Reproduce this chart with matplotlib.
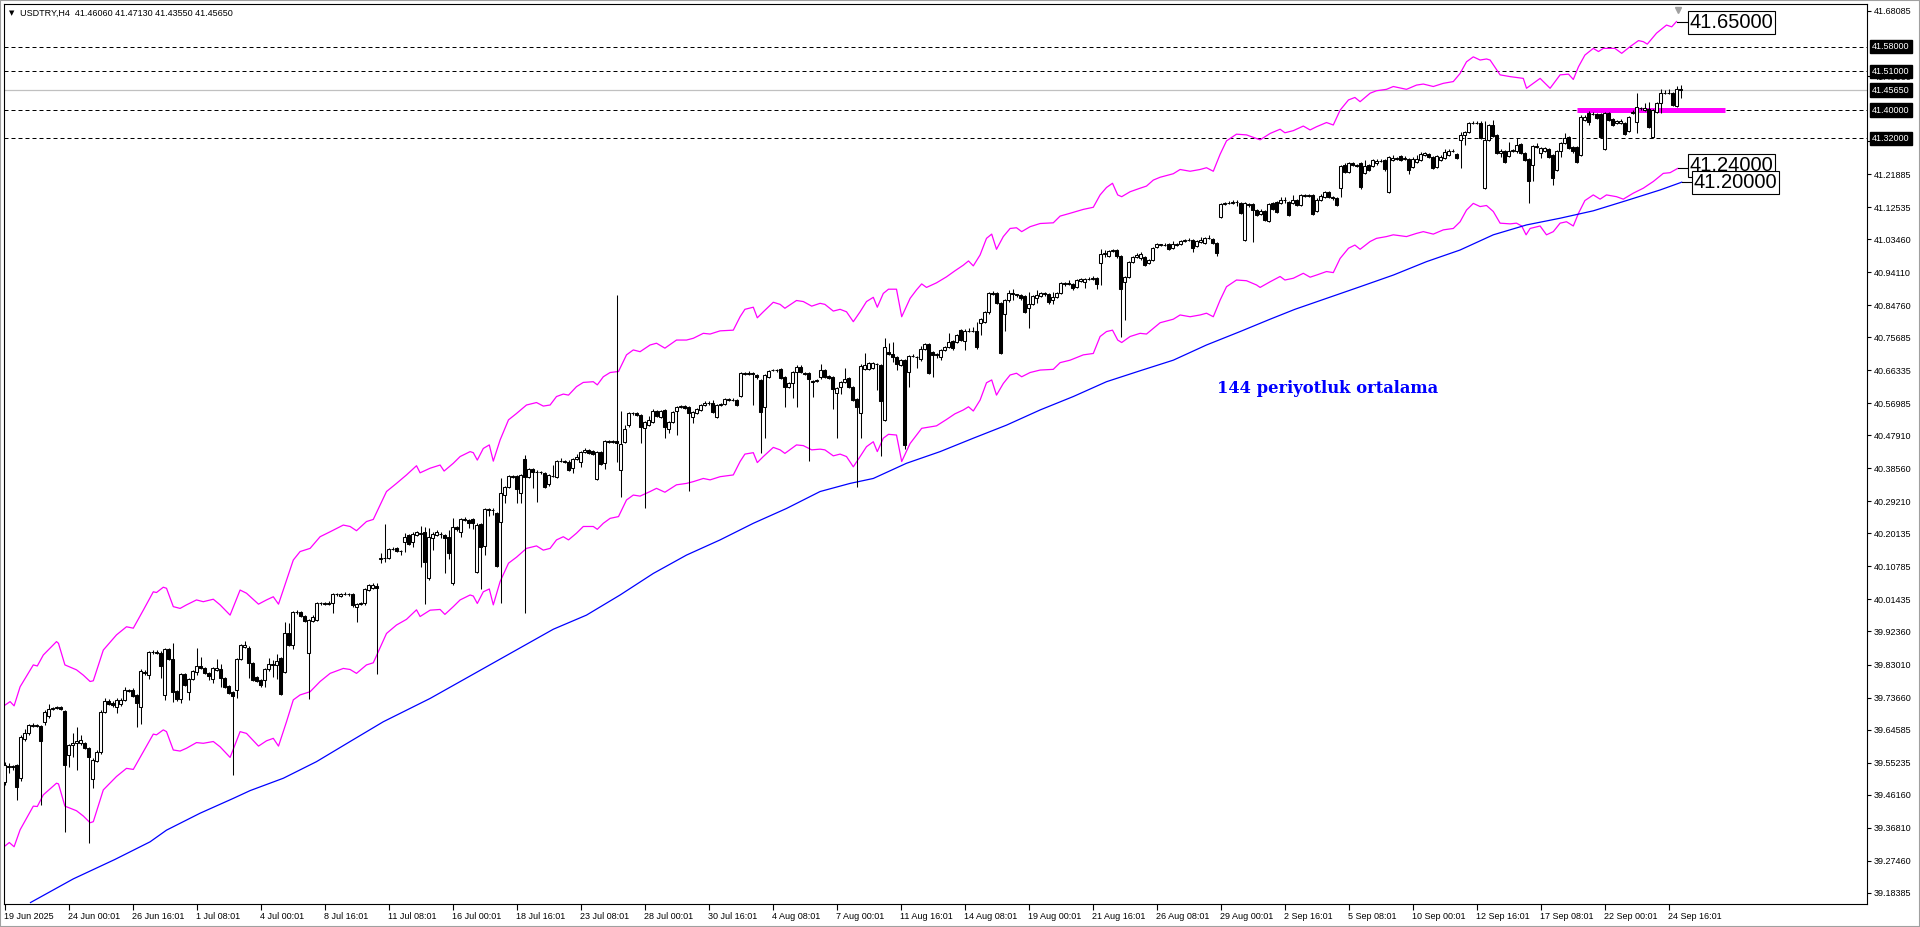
import numpy as np
import matplotlib.pyplot as plt
from matplotlib.patches import Rectangle

plt.rcParams['font.family'] = ['Liberation Sans', 'DejaVu Sans']

# USDTRY H4 candles, bar 0 = 19 Jun 2025 08:01
opens = [
    39.498, 39.543, 39.540, 39.546, 39.508, 39.618, 39.635, 39.656, 39.659, 39.656,
    39.666, 39.684, 39.703, 39.706, 39.709, 39.698, 39.574, 39.602, 39.607, 39.607,
    39.607, 39.593, 39.505, 39.558, 39.581, 39.695, 39.728, 39.722, 39.711, 39.718,
    39.730, 39.756, 39.758, 39.743, 39.711, 39.810, 39.801, 39.865, 39.866, 39.864,
    39.744, 39.875, 39.845, 39.755, 39.732, 39.803, 39.753, 39.788, 39.810, 39.827,
    39.819, 39.805, 39.790, 39.815, 39.817, 39.791, 39.769, 39.753, 39.758, 39.845,
    39.881, 39.878, 39.834, 39.794, 39.786, 39.786, 39.816, 39.832, 39.830, 39.848,
    39.808, 39.918, 39.884, 39.980, 39.978, 39.967, 39.862, 39.954, 39.956, 40.003,
    40.004, 40.002, 40.003, 40.030, 40.024, 40.030, 40.031, 40.030, 39.992, 40.002,
    40.003, 40.041, 40.046, 40.052, 40.130, 40.133, 40.131, 40.157, 40.159, 40.152,
    40.176, 40.197, 40.178, 40.197, 40.200, 40.206, 40.074, 40.187, 40.197, 40.201,
    40.197, 40.192, 40.060, 40.219, 40.205, 40.239, 40.239, 40.241, 40.093, 40.228,
    40.166, 40.270, 40.268, 40.260, 40.235, 40.310, 40.334, 40.364, 40.364, 40.315,
    40.411, 40.362, 40.383, 40.374, 40.376, 40.372, 40.340, 40.364, 40.362, 40.406,
    40.407, 40.405, 40.386, 40.411, 40.405, 40.433, 40.438, 40.436, 40.355, 40.431,
    40.400, 40.463, 40.461, 40.462, 40.381, 40.461, 40.507, 40.541, 40.542, 40.537,
    40.499, 40.508, 40.518, 40.549, 40.532, 40.551, 40.496, 40.516, 40.549, 40.560,
    40.561, 40.558, 40.532, 40.543, 40.551, 40.565, 40.572, 40.570, 40.530, 40.566,
    40.567, 40.582, 40.579, 40.579, 40.591, 40.655, 40.654, 40.655, 40.650, 40.636,
    40.558, 40.645, 40.663, 40.664, 40.666, 40.643, 40.615, 40.628, 40.659, 40.674,
    40.656, 40.655, 40.632, 40.633, 40.643, 40.664, 40.647, 40.645, 40.598, 40.615,
    40.629, 40.641, 40.617, 40.581, 40.541, 40.666, 40.666, 40.669, 40.682, 40.678,
    40.523, 40.716, 40.709, 40.700, 40.678, 40.692, 40.659, 40.704, 40.702, 40.694,
    40.723, 40.738, 40.716, 40.707, 40.702, 40.721, 40.730, 40.747, 40.744, 40.777,
    40.747, 40.776, 40.775, 40.776, 40.798, 40.801, 40.829, 40.881, 40.883, 40.855,
    40.822, 40.862, 40.881, 40.878, 40.877, 40.874, 40.839, 40.850, 40.867, 40.874,
    40.881, 40.878, 40.862, 40.870, 40.881, 40.910, 40.909, 40.908, 40.900, 40.917,
    40.914, 40.923, 40.922, 40.925, 40.968, 40.994, 40.987, 41.001, 41.004, 40.987,
    40.914, 40.928, 40.971, 40.985, 40.980, 40.983, 40.966, 40.976, 41.013, 41.020,
    41.017, 41.020, 41.009, 41.020, 41.020, 41.030, 41.032, 41.032, 41.015, 41.028,
    41.023, 41.037, 41.034, 41.023, 41.097, 41.134, 41.136, 41.138, 41.141, 41.136,
    41.032, 41.134, 41.134, 41.117, 41.106, 41.115, 41.087, 41.138, 41.141, 41.138,
    41.147, 41.141, 41.136, 41.146, 41.131, 41.157, 41.160, 41.160, 41.115, 41.147,
    41.155, 41.168, 41.155, 41.152, 41.179, 41.245, 41.226, 41.249, 41.245, 41.249,
    41.221, 41.245, 41.242, 41.249, 41.257, 41.259, 41.169, 41.259, 41.264, 41.270,
    41.261, 41.261, 41.240, 41.254, 41.259, 41.273, 41.276, 41.268, 41.240, 41.259,
    41.264, 41.273, 41.284, 41.275, 41.316, 41.330, 41.339, 41.363, 41.365, 41.365,
    41.179, 41.316, 41.358, 41.330, 41.280, 41.283, 41.270, 41.285, 41.283, 41.304,
    41.278, 41.261, 41.245, 41.299, 41.278, 41.285, 41.289, 41.273, 41.231, 41.283,
    41.306, 41.323, 41.295, 41.295, 41.273, 41.372, 41.391, 41.389, 41.390, 41.390,
    41.289, 41.393, 41.375, 41.363, 41.363, 41.363, 41.342, 41.393, 41.367, 41.405,
    41.401, 41.403, 41.323, 41.396, 41.421, 41.448, 41.450, 41.448, 41.413, 41.4606,
]
highs = [
    39.555, 39.550, 39.546, 39.548, 39.630, 39.647, 39.663, 39.664, 39.663, 39.660,
    39.700, 39.718, 39.710, 39.712, 39.712, 39.702, 39.606, 39.635, 39.652, 39.630,
    39.612, 39.597, 39.564, 39.588, 39.700, 39.734, 39.732, 39.726, 39.734, 39.735,
    39.765, 39.762, 39.763, 39.746, 39.816, 39.815, 39.868, 39.870, 39.870, 39.867,
    39.878, 39.878, 39.890, 39.758, 39.805, 39.806, 39.791, 39.814, 39.876, 39.852,
    39.822, 39.808, 39.823, 39.845, 39.831, 39.794, 39.772, 39.756, 39.848, 39.888,
    39.897, 39.882, 39.837, 39.797, 39.789, 39.819, 39.848, 39.843, 39.859, 39.851,
    39.951, 39.949, 39.983, 39.984, 39.981, 39.970, 39.960, 39.969, 40.008, 40.008,
    40.008, 40.009, 40.033, 40.034, 40.034, 40.035, 40.034, 40.033, 40.005, 40.008,
    40.046, 40.059, 40.060, 40.060, 40.147, 40.228, 40.160, 40.162, 40.162, 40.155,
    40.202, 40.200, 40.206, 40.208, 40.221, 40.220, 40.216, 40.204, 40.211, 40.206,
    40.200, 40.211, 40.244, 40.223, 40.246, 40.247, 40.243, 40.245, 40.230, 40.231,
    40.273, 40.273, 40.273, 40.263, 40.357, 40.337, 40.367, 40.367, 40.367, 40.370,
    40.423, 40.386, 40.386, 40.380, 40.379, 40.375, 40.370, 40.395, 40.409, 40.414,
    40.410, 40.408, 40.414, 40.425, 40.436, 40.442, 40.441, 40.439, 40.434, 40.434,
    40.466, 40.466, 40.466, 40.877, 40.548, 40.508, 40.545, 40.546, 40.545, 40.540,
    40.520, 40.535, 40.553, 40.552, 40.552, 40.554, 40.519, 40.549, 40.563, 40.565,
    40.564, 40.561, 40.549, 40.556, 40.568, 40.576, 40.575, 40.579, 40.568, 40.571,
    40.585, 40.584, 40.584, 40.582, 40.658, 40.659, 40.660, 40.659, 40.653, 40.640,
    40.653, 40.665, 40.668, 40.668, 40.669, 40.646, 40.629, 40.662, 40.677, 40.677,
    40.659, 40.658, 40.636, 40.640, 40.680, 40.667, 40.650, 40.648, 40.615, 40.634,
    40.671, 40.644, 40.620, 40.584, 40.680, 40.713, 40.688, 40.686, 40.685, 40.681,
    40.754, 40.742, 40.744, 40.703, 40.696, 40.695, 40.708, 40.709, 40.705, 40.732,
    40.741, 40.741, 40.719, 40.713, 40.724, 40.733, 40.768, 40.750, 40.766, 40.780,
    40.779, 40.784, 40.787, 40.799, 40.811, 40.832, 40.884, 40.889, 40.886, 40.858,
    40.865, 40.891, 40.893, 40.880, 40.880, 40.877, 40.886, 40.877, 40.891, 40.885,
    40.884, 40.881, 40.886, 40.884, 40.913, 40.914, 40.919, 40.911, 40.922, 40.925,
    40.926, 40.928, 40.929, 40.928, 41.006, 41.004, 41.004, 41.007, 41.007, 40.990,
    40.931, 40.974, 40.988, 40.996, 40.999, 40.986, 40.979, 41.012, 41.023, 41.022,
    41.023, 41.023, 41.030, 41.023, 41.033, 41.036, 41.037, 41.035, 41.033, 41.042,
    41.040, 41.046, 41.037, 41.026, 41.137, 41.140, 41.142, 41.145, 41.145, 41.139,
    41.139, 41.137, 41.137, 41.120, 41.119, 41.118, 41.137, 41.141, 41.144, 41.155,
    41.155, 41.144, 41.160, 41.149, 41.163, 41.164, 41.163, 41.163, 41.150, 41.164,
    41.170, 41.171, 41.158, 41.155, 41.245, 41.249, 41.252, 41.252, 41.248, 41.252,
    41.259, 41.248, 41.262, 41.261, 41.261, 41.262, 41.271, 41.273, 41.268, 41.273,
    41.270, 41.264, 41.268, 41.273, 41.281, 41.281, 41.279, 41.271, 41.273, 41.272,
    41.289, 41.289, 41.289, 41.278, 41.339, 41.342, 41.366, 41.368, 41.368, 41.368,
    41.368, 41.361, 41.372, 41.333, 41.289, 41.286, 41.311, 41.290, 41.320, 41.306,
    41.281, 41.264, 41.302, 41.306, 41.295, 41.295, 41.292, 41.276, 41.286, 41.309,
    41.336, 41.326, 41.298, 41.298, 41.385, 41.385, 41.398, 41.394, 41.393, 41.393,
    41.396, 41.396, 41.378, 41.372, 41.374, 41.366, 41.383, 41.400, 41.448, 41.410,
    41.420, 41.424, 41.404, 41.422, 41.459, 41.457, 41.459, 41.451, 41.469, 41.4713,
]
lows = [
    39.490, 39.522, 39.531, 39.446, 39.500, 39.614, 39.630, 39.652, 39.652, 39.432,
    39.660, 39.680, 39.700, 39.703, 39.701, 39.357, 39.541, 39.569, 39.531, 39.603,
    39.590, 39.324, 39.480, 39.554, 39.578, 39.692, 39.715, 39.711, 39.694, 39.714,
    39.727, 39.752, 39.738, 39.654, 39.662, 39.800, 39.788, 39.860, 39.860, 39.793,
    39.730, 39.842, 39.725, 39.728, 39.720, 39.768, 39.730, 39.785, 39.801, 39.816,
    39.802, 39.786, 39.777, 39.812, 39.767, 39.764, 39.746, 39.517, 39.734, 39.842,
    39.878, 39.791, 39.783, 39.780, 39.765, 39.767, 39.813, 39.796, 39.788, 39.744,
    39.805, 39.883, 39.873, 39.974, 39.964, 39.951, 39.733, 39.950, 39.953, 39.999,
    39.998, 39.999, 39.977, 40.025, 40.021, 40.026, 40.025, 39.992, 39.951, 39.999,
    39.999, 40.038, 40.043, 39.802, 40.118, 40.121, 40.128, 40.154, 40.149, 40.140,
    40.150, 40.168, 40.164, 40.194, 40.107, 40.001, 40.070, 40.154, 40.194, 40.187,
    40.088, 40.128, 40.055, 40.209, 40.192, 40.236, 40.216, 40.213, 40.090, 40.043,
    40.140, 40.251, 40.253, 40.107, 40.005, 40.287, 40.331, 40.357, 40.287, 40.287,
    39.977, 40.359, 40.329, 40.291, 40.370, 40.329, 40.337, 40.360, 40.359, 40.403,
    40.401, 40.378, 40.372, 40.408, 40.390, 40.430, 40.425, 40.423, 40.352, 40.395,
    40.384, 40.457, 40.457, 40.405, 40.305, 40.458, 40.504, 40.537, 40.533, 40.457,
    40.272, 40.505, 40.515, 40.531, 40.529, 40.471, 40.485, 40.513, 40.480, 40.556,
    40.553, 40.321, 40.513, 40.540, 40.548, 40.562, 40.566, 40.543, 40.527, 40.563,
    40.564, 40.575, 40.575, 40.562, 40.588, 40.650, 40.651, 40.565, 40.640, 40.430,
    40.471, 40.642, 40.660, 40.659, 40.638, 40.560, 40.612, 40.586, 40.558, 40.655,
    40.651, 40.406, 40.589, 40.630, 40.640, 40.642, 40.638, 40.553, 40.471, 40.595,
    40.626, 40.614, 40.576, 40.332, 40.472, 40.663, 40.663, 40.666, 40.608, 40.422,
    40.520, 40.706, 40.688, 40.664, 40.675, 40.440, 40.615, 40.700, 40.669, 40.691,
    40.720, 40.654, 40.645, 40.699, 40.693, 40.718, 40.727, 40.721, 40.741, 40.746,
    40.721, 40.772, 40.772, 40.725, 40.763, 40.798, 40.822, 40.877, 40.852, 40.710,
    40.775, 40.858, 40.862, 40.872, 40.862, 40.825, 40.782, 40.847, 40.853, 40.871,
    40.874, 40.851, 40.851, 40.867, 40.878, 40.903, 40.906, 40.891, 40.897, 40.914,
    40.895, 40.919, 40.920, 40.893, 40.905, 40.983, 40.984, 40.998, 40.980, 40.759,
    40.806, 40.925, 40.968, 40.982, 40.977, 40.959, 40.963, 40.973, 41.010, 41.014,
    41.014, 41.003, 41.006, 41.015, 41.017, 41.027, 41.029, 40.999, 41.012, 41.025,
    41.020, 41.034, 41.020, 40.987, 41.094, 41.131, 41.133, 41.135, 41.129, 41.105,
    41.029, 41.127, 41.028, 41.100, 41.102, 41.086, 41.084, 41.116, 41.110, 41.135,
    41.136, 41.100, 41.133, 41.128, 41.128, 41.154, 41.154, 41.103, 41.112, 41.144,
    41.152, 41.152, 41.147, 41.128, 41.155, 41.223, 41.223, 41.241, 41.238, 41.178,
    41.218, 41.228, 41.239, 41.246, 41.253, 41.229, 41.166, 41.256, 41.260, 41.256,
    41.258, 41.219, 41.237, 41.251, 41.256, 41.270, 41.264, 41.232, 41.237, 41.256,
    41.261, 41.270, 41.281, 41.261, 41.235, 41.301, 41.336, 41.360, 41.361, 41.317,
    41.176, 41.313, 41.324, 41.275, 41.268, 41.250, 41.267, 41.281, 41.280, 41.275,
    41.256, 41.138, 41.198, 41.292, 41.264, 41.282, 41.264, 41.188, 41.228, 41.268,
    41.303, 41.289, 41.278, 41.251, 41.270, 41.369, 41.358, 41.386, 41.374, 41.320,
    41.286, 41.369, 41.355, 41.360, 41.360, 41.330, 41.339, 41.390, 41.336, 41.401,
    41.398, 41.350, 41.320, 41.393, 41.391, 41.445, 41.446, 41.412, 41.410, 41.4355,
]
closes = [
    39.546, 39.540, 39.542, 39.484, 39.626, 39.635, 39.659, 39.659, 39.657, 39.614,
    39.695, 39.703, 39.706, 39.709, 39.705, 39.546, 39.602, 39.607, 39.614, 39.616,
    39.593, 39.569, 39.560, 39.583, 39.697, 39.727, 39.718, 39.716, 39.730, 39.730,
    39.758, 39.758, 39.741, 39.720, 39.813, 39.805, 39.865, 39.866, 39.864, 39.827,
    39.875, 39.845, 39.753, 39.732, 39.802, 39.772, 39.788, 39.811, 39.827, 39.819,
    39.805, 39.798, 39.819, 39.820, 39.791, 39.767, 39.750, 39.741, 39.845, 39.885,
    39.884, 39.834, 39.786, 39.784, 39.772, 39.816, 39.832, 39.830, 39.841, 39.747,
    39.918, 39.886, 39.980, 39.978, 39.967, 39.954, 39.956, 39.966, 40.003, 40.004,
    40.002, 40.005, 40.030, 40.029, 40.030, 40.031, 40.029, 39.999, 40.002, 40.005,
    40.043, 40.055, 40.055, 40.046, 40.133, 40.131, 40.157, 40.158, 40.152, 40.151,
    40.190, 40.171, 40.199, 40.204, 40.202, 40.121, 40.192, 40.200, 40.204, 40.199,
    40.189, 40.145, 40.219, 40.213, 40.242, 40.243, 40.230, 40.232, 40.225, 40.164,
    40.270, 40.268, 40.269, 40.110, 40.315, 40.334, 40.364, 40.362, 40.326, 40.367,
    40.362, 40.383, 40.374, 40.376, 40.374, 40.332, 40.367, 40.365, 40.406, 40.407,
    40.405, 40.381, 40.411, 40.419, 40.433, 40.438, 40.428, 40.426, 40.431, 40.398,
    40.463, 40.461, 40.462, 40.458, 40.456, 40.496, 40.541, 40.542, 40.537, 40.502,
    40.517, 40.523, 40.549, 40.534, 40.549, 40.504, 40.516, 40.546, 40.560, 40.561,
    40.556, 40.541, 40.546, 40.553, 40.565, 40.572, 40.570, 40.546, 40.565, 40.567,
    40.582, 40.579, 40.580, 40.565, 40.655, 40.654, 40.656, 40.652, 40.644, 40.546,
    40.650, 40.662, 40.664, 40.663, 40.641, 40.615, 40.626, 40.659, 40.674, 40.658,
    40.654, 40.638, 40.631, 40.636, 40.664, 40.645, 40.641, 40.609, 40.612, 40.631,
    40.639, 40.617, 40.579, 40.558, 40.676, 40.678, 40.683, 40.683, 40.680, 40.575,
    40.728, 40.709, 40.700, 40.681, 40.693, 40.452, 40.705, 40.703, 40.700, 40.723,
    40.738, 40.657, 40.707, 40.709, 40.721, 40.730, 40.744, 40.726, 40.763, 40.749,
    40.776, 40.775, 40.776, 40.728, 40.808, 40.829, 40.881, 40.880, 40.855, 40.713,
    40.862, 40.881, 40.878, 40.876, 40.867, 40.828, 40.851, 40.874, 40.876, 40.881,
    40.878, 40.858, 40.872, 40.881, 40.910, 40.909, 40.910, 40.895, 40.919, 40.922,
    40.923, 40.922, 40.925, 40.908, 40.994, 40.995, 41.001, 41.003, 40.987, 40.893,
    40.928, 40.971, 40.985, 40.990, 40.992, 40.962, 40.976, 41.009, 41.020, 41.017,
    41.019, 41.006, 41.020, 41.018, 41.030, 41.032, 41.033, 41.009, 41.030, 41.032,
    41.037, 41.038, 41.023, 40.996, 41.134, 41.136, 41.138, 41.141, 41.140, 41.108,
    41.136, 41.131, 41.117, 41.103, 41.115, 41.089, 41.134, 41.119, 41.113, 41.147,
    41.145, 41.103, 41.146, 41.131, 41.160, 41.160, 41.157, 41.106, 41.147, 41.157,
    41.167, 41.155, 41.150, 41.131, 41.242, 41.226, 41.249, 41.245, 41.242, 41.181,
    41.242, 41.231, 41.259, 41.257, 41.256, 41.232, 41.268, 41.264, 41.263, 41.259,
    41.264, 41.231, 41.261, 41.262, 41.275, 41.278, 41.268, 41.235, 41.270, 41.268,
    41.281, 41.284, 41.285, 41.264, 41.330, 41.339, 41.363, 41.365, 41.364, 41.320,
    41.316, 41.358, 41.327, 41.278, 41.285, 41.254, 41.285, 41.286, 41.301, 41.278,
    41.259, 41.200, 41.299, 41.295, 41.292, 41.292, 41.268, 41.207, 41.283, 41.306,
    41.322, 41.292, 41.285, 41.254, 41.382, 41.381, 41.367, 41.390, 41.377, 41.323,
    41.393, 41.372, 41.358, 41.369, 41.370, 41.333, 41.380, 41.396, 41.410, 41.406,
    41.406, 41.353, 41.401, 41.419, 41.448, 41.450, 41.449, 41.415, 41.460, 41.4565,
]

# envelope (magenta) and 144-period average (blue), read at bar positions
upper_x = [0.1, 1.4, 2.4, 3.9, 7.2, 8.2, 9.7, 13.0, 13.5, 15.1, 18.0, 19.7, 21.4, 22.2, 24.7,
           28.0, 30.5, 32.2, 34.7, 37.2, 38.0, 39.7, 40.5, 42.2, 43.9, 45.5, 48.0, 49.7, 52.2,
           53.9, 56.4, 58.9, 60.5, 63.5, 65.5, 67.2, 68.5, 70.5, 72.2, 73.9, 76.4, 78.9, 81.4,
           84.7, 86.4, 88.0, 90.5, 92.2, 95.5, 98.0, 100.5, 103.0, 103.9, 106.4, 108.9, 109.9,
           112.2, 113.9, 116.4, 117.2, 118.2, 119.7, 121.2, 122.2, 123.9, 126.0, 128.0, 130.5,
           133.0, 134.7, 136.4, 138.0, 139.7, 141.0, 143.0, 144.7, 147.2, 148.2, 149.7, 151.4,
           153.5, 155.5, 157.2, 158.9, 161.4, 163.0, 165.1, 168.0, 170.5, 172.2, 174.7, 176.4,
           178.9, 182.2, 183.9, 185.1, 187.2, 188.2, 189.7, 192.2, 193.9, 195.1, 198.0, 199.7,
           201.8, 203.9, 205.1, 207.2, 208.9, 210.5, 212.2, 213.9, 215.5, 217.2, 218.2, 219.7,
           221.0, 223.0, 224.3, 226.4, 228.0, 229.3, 230.5, 233.0, 235.5, 237.6, 239.7, 241.0,
           242.2, 243.9, 245.5, 246.8, 248.0, 249.7, 251.4, 253.0, 254.3, 256.4, 258.9, 262.2,
           263.9, 266.4, 269.7, 272.2, 273.9, 275.5, 277.0, 278.3, 279.3, 281.4, 283.9, 285.5,
           287.2, 288.9, 292.2, 293.9, 296.4, 298.9, 300.5, 302.2, 303.9, 305.5, 308.0, 310.5,
           313.9, 316.4, 318.9, 320.1, 322.2, 324.7, 326.4, 328.0, 330.5, 332.2, 333.9, 336.0,
           337.6, 338.9, 341.4, 343.0, 345.5, 347.2, 350.5, 353.0, 354.7, 357.2, 359.7, 362.2,
           363.9, 365.5, 367.2, 368.9, 370.5, 371.4, 373.9, 376.4, 379.7, 380.5, 383.9, 385.5,
           386.4, 388.9, 391.0, 392.2, 393.5, 395.1, 397.2, 398.5, 399.7, 402.6, 404.3, 406.4,
           408.5, 409.7, 410.7, 413.0, 415.5, 416.8, 418.0]
upper_y = [39.715, 39.725, 39.713, 39.767, 39.829, 39.826, 39.857, 39.895, 39.890, 39.829, 39.815,
           39.800, 39.782, 39.784, 39.871, 39.914, 39.937, 39.933, 39.984, 40.036, 40.034, 40.049,
           40.046, 39.994, 39.989, 39.999, 40.013, 40.008, 40.015, 39.999, 39.970, 40.041, 40.032,
           40.001, 40.013, 40.022, 40.001, 40.069, 40.126, 40.150, 40.159, 40.192, 40.206, 40.225,
           40.221, 40.209, 40.235, 40.241, 40.320, 40.343, 40.367, 40.393, 40.373, 40.386, 40.395,
           40.378, 40.400, 40.419, 40.433, 40.430, 40.409, 40.442, 40.452, 40.406, 40.466, 40.523,
           40.541, 40.565, 40.572, 40.562, 40.565, 40.589, 40.596, 40.593, 40.617, 40.629, 40.631,
           40.622, 40.645, 40.657, 40.660, 40.707, 40.721, 40.716, 40.735, 40.740, 40.726, 40.749,
           40.749, 40.754, 40.768, 40.766, 40.775, 40.777, 40.815, 40.836, 40.842, 40.812, 40.829,
           40.856, 40.850, 40.839, 40.861, 40.858, 40.845, 40.853, 40.850, 40.831, 40.836, 40.829,
           40.801, 40.829, 40.858, 40.870, 40.842, 40.881, 40.893, 40.893, 40.815, 40.867, 40.891,
           40.908, 40.898, 40.911, 40.928, 40.945, 40.961, 40.973, 40.959, 40.990, 41.037, 41.049,
           41.006, 41.042, 41.065, 41.067, 41.056, 41.070, 41.079, 41.081, 41.100, 41.108, 41.119,
           41.125, 41.160, 41.181, 41.193, 41.160, 41.155, 41.169, 41.179, 41.185, 41.202, 41.210,
           41.220, 41.232, 41.227, 41.232, 41.237, 41.227, 41.275, 41.313, 41.332, 41.330, 41.316,
           41.334, 41.346, 41.336, 41.342, 41.355, 41.344, 41.353, 41.365, 41.358, 41.400, 41.429,
           41.436, 41.424, 41.448, 41.455, 41.459, 41.467, 41.459, 41.471, 41.474, 41.467, 41.476,
           41.481, 41.504, 41.537, 41.551, 41.542, 41.545, 41.542, 41.500, 41.495, 41.490, 41.462,
           41.490, 41.472, 41.462, 41.500, 41.502, 41.487, 41.523, 41.556, 41.575, 41.566, 41.575,
           41.575, 41.561, 41.580, 41.597, 41.594, 41.587, 41.618, 41.641, 41.636, 41.651]

lower_x = [0.1, 1.2, 2.4, 3.9, 7.2, 8.2, 9.7, 13.0, 13.5, 15.1, 18.0, 19.7, 21.4, 22.2, 24.7,
           28.0, 30.5, 32.2, 34.7, 37.2, 38.0, 39.7, 40.5, 42.2, 43.9, 45.5, 48.0, 49.7, 52.2,
           53.9, 56.4, 58.9, 60.5, 63.5, 65.5, 67.2, 68.5, 70.5, 72.2, 73.9, 76.4, 78.9, 81.4,
           84.7, 86.4, 88.0, 90.5, 92.2, 95.5, 98.0, 100.5, 103.0, 103.9, 106.4, 108.9, 110.1,
           112.2, 113.9, 116.4, 117.2, 118.2, 119.7, 121.2, 122.2, 123.9, 126.0, 128.0, 130.5,
           133.0, 134.7, 136.4, 138.0, 139.7, 141.0, 143.0, 144.7, 147.2, 148.2, 149.7, 151.4,
           153.5, 155.5, 157.2, 158.9, 161.4, 163.0, 165.1, 168.0, 170.5, 172.2, 174.7, 176.4,
           178.9, 182.2, 183.9, 185.1, 187.2, 188.2, 189.7, 192.2, 193.9, 195.1, 198.0, 199.7,
           201.8, 203.9, 205.1, 207.2, 208.9, 210.5, 212.2, 213.9, 215.5, 217.2, 218.2, 219.7,
           221.0, 223.0, 224.3, 226.4, 229.3, 233.0, 235.5, 237.6, 239.7, 241.0, 242.2, 243.9,
           245.5, 246.8, 248.0, 249.7, 251.4, 253.0, 254.3, 256.4, 258.9, 262.2, 263.9, 266.4,
           269.7, 272.2, 273.9, 275.5, 277.0, 278.3, 279.3, 281.4, 283.9, 285.5, 287.2, 288.9,
           292.2, 293.9, 296.4, 298.9, 300.5, 302.2, 303.9, 305.5, 308.0, 310.5, 313.0, 313.9,
           316.4, 318.9, 320.1, 322.2, 324.7, 326.4, 328.0, 330.5, 332.2, 333.9, 336.0, 337.6,
           338.9, 341.4, 343.0, 345.5, 347.2, 350.5, 353.0, 354.7, 357.2, 359.7, 362.2, 363.9,
           365.5, 367.2, 368.9, 370.5, 372.2, 373.9, 376.4, 378.0, 379.3, 380.4, 381.4, 383.9,
           385.5, 387.2, 388.9, 390.5, 392.2, 393.5, 395.1, 397.2, 398.9, 400.5, 403.0, 404.7,
           407.2, 409.7, 412.2, 414.7, 416.4, 418.3]
lower_y = [39.316, 39.326, 39.314, 39.362, 39.429, 39.428, 39.461, 39.494, 39.492, 39.429, 39.416,
           39.401, 39.382, 39.385, 39.475, 39.513, 39.536, 39.533, 39.583, 39.633, 39.631, 39.645,
           39.640, 39.588, 39.585, 39.593, 39.609, 39.607, 39.612, 39.597, 39.567, 39.640, 39.635,
           39.599, 39.614, 39.621, 39.599, 39.668, 39.730, 39.744, 39.753, 39.782, 39.805, 39.819,
           39.816, 39.805, 39.829, 39.835, 39.918, 39.942, 39.958, 39.985, 39.966, 39.984, 39.986,
           39.972, 39.994, 40.013, 40.027, 40.024, 40.003, 40.036, 40.044, 39.999, 40.065, 40.117,
           40.134, 40.159, 40.166, 40.154, 40.159, 40.183, 40.192, 40.183, 40.202, 40.221, 40.221,
           40.213, 40.230, 40.244, 40.249, 40.296, 40.310, 40.307, 40.320, 40.329, 40.318, 40.339,
           40.343, 40.348, 40.357, 40.353, 40.362, 40.367, 40.405, 40.426, 40.430, 40.402, 40.419,
           40.445, 40.438, 40.428, 40.452, 40.450, 40.438, 40.440, 40.438, 40.421, 40.426, 40.419,
           40.390, 40.419, 40.447, 40.461, 40.433, 40.471, 40.482, 40.480, 40.405, 40.456, 40.499,
           40.506, 40.524, 40.540, 40.551, 40.560, 40.548, 40.579, 40.628, 40.636, 40.593, 40.626,
           40.650, 40.655, 40.645, 40.657, 40.664, 40.666, 40.685, 40.692, 40.707, 40.711, 40.759,
           40.773, 40.777, 40.749, 40.742, 40.759, 40.768, 40.766, 40.782, 40.798, 40.808, 40.820,
           40.815, 40.820, 40.825, 40.815, 40.862, 40.900, 40.919, 40.917, 40.905, 40.898, 40.914,
           40.929, 40.919, 40.924, 40.938, 40.927, 40.933, 40.943, 40.940, 40.980, 41.009, 41.018,
           41.006, 41.028, 41.037, 41.042, 41.047, 41.042, 41.051, 41.056, 41.049, 41.061, 41.065,
           41.084, 41.117, 41.136, 41.127, 41.130, 41.113, 41.080, 41.078, 41.080, 41.072, 41.047,
           41.065, 41.072, 41.047, 41.056, 41.080, 41.084, 41.072, 41.108, 41.144, 41.160, 41.148,
           41.160, 41.155, 41.148, 41.165, 41.179, 41.198, 41.221, 41.223, 41.235]

ma_x = [6.5, 17.2, 27.6, 36.4, 40.5, 48.9, 57.2, 61.4, 69.7, 78.0, 86.4, 94.7, 106.4, 137.2,
        145.5, 153.9, 162.2, 170.5, 178.9, 187.2, 195.5, 203.9, 211.4, 217.2, 225.5, 233.9,
        242.2, 250.5, 258.9, 267.2, 275.5, 283.9, 292.2, 300.5, 308.9, 316.4, 322.6, 330.5,
        338.9, 347.2, 355.5, 363.9, 372.2, 380.5, 388.9, 397.2, 405.5, 413.9, 419.3]
ma_y = [39.156, 39.223, 39.278, 39.328, 39.361, 39.409, 39.451, 39.473, 39.508, 39.555, 39.612,
        39.668, 39.734, 39.930, 39.970, 40.027, 40.088, 40.140, 40.183, 40.230, 40.272, 40.320,
        40.343, 40.357, 40.400, 40.433, 40.471, 40.508, 40.551, 40.589, 40.631, 40.662, 40.692,
        40.735, 40.773, 40.808, 40.836, 40.867, 40.900, 40.933, 40.971, 41.004, 41.047, 41.075,
        41.094, 41.115, 41.144, 41.174, 41.196]

levels = [41.58, 41.51, 41.40, 41.32]
bid = 41.4565

ytick_vals = [41.68085, 41.49660, 41.31235, 41.21885, 41.12535, 41.03460, 40.94110, 40.84760,
              40.75685, 40.66335, 40.56985, 40.47910, 40.38560, 40.29210, 40.20135, 40.10785,
              40.01435, 39.92360, 39.83010, 39.73660, 39.64585, 39.55235, 39.46160, 39.36810,
              39.27460, 39.18385]
xtick_labels = ['19 Jun 2025', '24 Jun 00:01', '26 Jun 16:01', '1 Jul 08:01', '4 Jul 00:01',
                '8 Jul 16:01', '11 Jul 08:01', '16 Jul 00:01', '18 Jul 16:01', '23 Jul 08:01',
                '28 Jul 00:01', '30 Jul 16:01', '4 Aug 08:01', '7 Aug 00:01', '11 Aug 16:01',
                '14 Aug 08:01', '19 Aug 00:01', '21 Aug 16:01', '26 Aug 08:01', '29 Aug 00:01',
                '2 Sep 16:01', '5 Sep 08:01', '10 Sep 00:01', '12 Sep 16:01', '17 Sep 08:01',
                '22 Sep 00:01', '24 Sep 16:01']

W, H = 1920, 927
fig = plt.figure(figsize=(W / 100, H / 100), dpi=100)
ax = fig.add_axes([4 / W, 23 / H, 1863 / W, 900 / H])

o = np.array(opens)
h = np.array(highs)
l = np.array(lows)
c = np.array(closes)
idx = np.arange(len(c))
up = c >= o

# candles
ax.vlines(idx, l, h, color='black', linewidth=0.75, zorder=3)
bottom = np.minimum(o, c)
height = np.abs(c - o)
ax.bar(idx[up], height[up], bottom=bottom[up], width=0.55, color='white',
       edgecolor='black', linewidth=0.75, zorder=4)
ax.bar(idx[~up], height[~up], bottom=bottom[~up], width=0.55, color='black',
       edgecolor='black', linewidth=0.75, zorder=4)

# indicators
ax.plot(upper_x, upper_y, color='#FF00FF', lw=0.9, zorder=2)
ax.plot(lower_x, lower_y, color='#FF00FF', lw=0.9, zorder=2)
ax.plot(ma_x, ma_y, color='#0000FF', lw=0.9, zorder=2)

# horizontal levels
for lv in levels:
    ax.axhline(lv, color='black', lw=0.72, dashes=(4, 3), zorder=1)
ax.axhline(bid, color='#C0C0C0', lw=0.9, zorder=1)
ax.hlines(41.40, 393.0, 430.1, color='#FF00FF', lw=3.6, zorder=2)

# price labels at the line ends
box = dict(boxstyle='square,pad=0.1', fc='white', ec='black', lw=0.8)
ax.plot([418.0, 420.9], [41.651, 41.651], color='black', lw=0.8, zorder=5)
ax.text(421.3, 41.647, '41.65000', fontsize=14.5, va='center', ha='left', bbox=box, zorder=6)
ax.plot([418.3, 420.9], [41.236, 41.236], color='black', lw=0.8, zorder=5)
ax.text(421.3, 41.243, '41.24000', fontsize=14.5, va='center', ha='left', bbox=box, zorder=6)
ax.plot([419.3, 421.9], [41.196, 41.196], color='black', lw=0.8, zorder=5)
ax.text(422.3, 41.195, '41.20000', fontsize=14.5, va='center', ha='left', bbox=box, zorder=7)

ax.text(303.1, 40.613, '144 periyotluk ortalama', color='#0000FF', fontsize=11.8,
        fontweight='bold', family=['DejaVu Serif'], va='center', ha='left')

# shift marker at the top
ax.plot([418.4], [0.993], marker='v', ms=5, color='#A0A0A0', mec='#A0A0A0',
        transform=ax.get_xaxis_transform(), clip_on=False, zorder=8)

ax.set_xlim(-0.125, 465.625)
ax.set_ylim(39.15187, 41.70067)

ax.set_xticks(np.arange(0, 417, 16))
ax.set_xticklabels(xtick_labels)
for t in ax.get_xticklabels():
    t.set_ha('left')
ax.tick_params(axis='x', length=4, width=0.8, pad=1.5, labelsize=6.5)

ax.yaxis.tick_right()
ax.set_yticks(ytick_vals)
ax.set_yticklabels(['%.5f' % v for v in ytick_vals])
ax.tick_params(axis='y', length=3, width=0.8, pad=2, labelsize=6.5)

for lv in levels + [bid]:
    ax.text(1.0027, lv, '%.5f' % lv, transform=ax.get_yaxis_transform(), color='white',
            fontsize=6.5, va='center', ha='left', clip_on=False, zorder=10,
            bbox=dict(boxstyle='square,pad=0.25', fc='black', ec='black'))

for s in ax.spines.values():
    s.set_linewidth(0.8)
    s.set_color('black')

fig.text(20 / W, 1 - 13 / H, 'USDTRY,H4  41.46060 41.47130 41.43550 41.45650',
         fontsize=6.5, va='center', ha='left')
fig.text(11.5 / W, 1 - 13 / H, '\u25bc', fontsize=5, va='center', ha='center',
         family=['DejaVu Sans'])

fig.patches.append(Rectangle((0, 0), 1, 1, transform=fig.transFigure, fill=False,
                             ec='#A0A0A0', lw=1.5))

fig.savefig('out.png', dpi=100)
